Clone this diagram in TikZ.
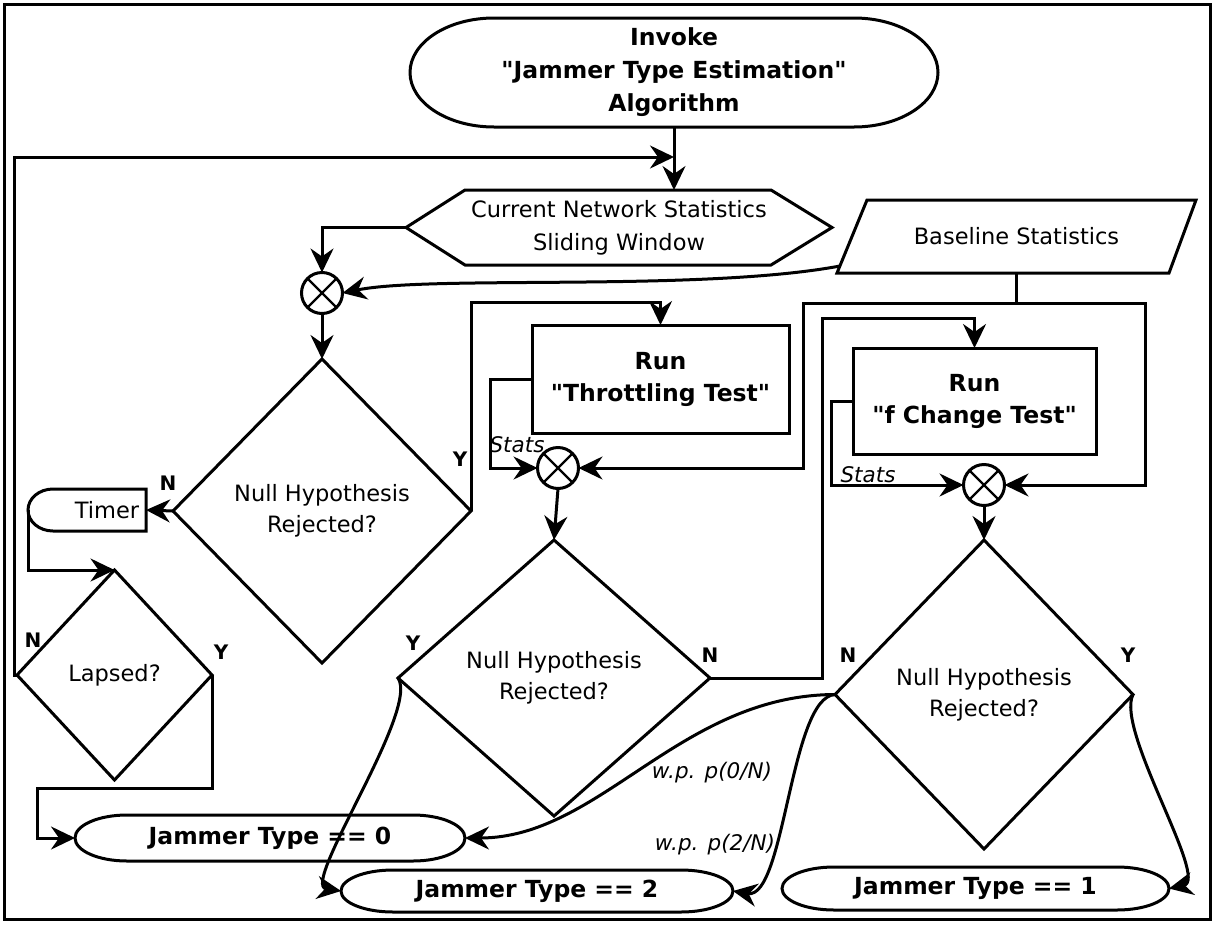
\documentclass[tikz,border=0pt]{standalone}
\usepackage{fontspec}
\setmainfont{DejaVu Sans}
\usetikzlibrary{arrows.meta,calc,shapes.geometric}
\newcommand\dq{\XeTeXglyph\XeTeXcharglyph"22\relax}
\newcommand\stadiumpath[3]{%
  \draw[ln] ([xshift=#2]#1.north west) -- ([xshift=-#2]#1.north east)
    arc[start angle=90,end angle=-90,x radius=#2,y radius=#3]
    -- ([xshift=#2]#1.south west)
    arc[start angle=270,end angle=90,x radius=#2,y radius=#3] -- cycle;}
\begin{document}
\begin{tikzpicture}[x=1pt,y=-1pt,
  ln/.style={line width=3pt},
  arr/.style={line width=3pt,-{Stealth[length=24pt,width=23pt,inset=8pt]}},
  txt/.style={font=\fontsize{22.5}{33}\selectfont,align=center,inner sep=0pt,outer sep=0pt},
  btxt/.style={font=\fontsize{23.5}{33}\selectfont\bfseries,align=center,inner sep=0pt,outer sep=0pt},
  shp/.style={inner sep=0pt,outer sep=0pt},
  dia/.style={diamond,draw,line width=3pt,inner sep=0pt,outer sep=0pt,align=center,font=\fontsize{22.5}{31}\selectfont},
  box/.style={rectangle,draw,line width=3pt,inner sep=0pt,outer sep=0pt,align=center,font=\fontsize{23.5}{32}\selectfont\bfseries},
  sum/.style={circle,draw,line width=3pt,minimum size=41pt,inner sep=0pt,outer sep=0pt,
     path picture={\draw[line width=2.4pt] (path picture bounding box.north west) -- (path picture bounding box.south east)
      (path picture bounding box.north east) -- (path picture bounding box.south west);}},
  yn/.style={font=\fontsize{20}{22}\selectfont\bfseries,inner sep=0pt},
  itl/.style={font=\fontsize{21.5}{24}\selectfont\itshape,inner sep=0pt}
]
\useasboundingbox (0,0) rectangle (1215,924);
\draw[line width=3.5pt] (4.5,4.5) rectangle (1210.5,919.5);

% nodes
\node[btxt,minimum width=528pt,minimum height=109pt] (start) at (674,72.5) {Invoke\\\dq Jammer Type Estimation\dq\\Algorithm};
\stadiumpath{start}{84pt}{54.5pt}

\node[txt,minimum width=426pt,minimum height=75pt] (hex) at (619,227.5) {Current Network Statistics\\Sliding Window};
\draw[ln] (hex.west) -- ([xshift=59pt]hex.north west) -- ([xshift=-61pt]hex.north east) -- (hex.east) -- ([xshift=-61pt]hex.south east) -- ([xshift=59pt]hex.south west) -- cycle;

\node[txt,minimum width=359pt,minimum height=73pt] (base) at (1016.5,236.5) {Baseline Statistics};
\draw[ln] ([xshift=30pt]base.north west) -- (base.north east) -- ([xshift=-27pt]base.south east) -- (base.south west) -- cycle;

\node[sum] (c1) at (322,293) {};
\node[dia,minimum width=298pt,minimum height=304pt] (d1) at (322,511) {Null Hypothesis\\Rejected?};

\node[shp,minimum width=118pt,minimum height=42pt] (timer) at (87,510) {};
\node[txt] (timertxt) at (107,510) {Timer};
\draw[ln] (timer.north east) -- ([xshift=25pt]timer.north west) arc[start angle=90,end angle=270,x radius=25pt,y radius=21pt] -- (timer.south east) -- cycle;

\node[dia,minimum width=195pt,minimum height=210pt] (lap) at (114.5,675) {Lapsed?};

\node[box,minimum width=257pt,minimum height=108pt] (thr) at (660.5,379) {Run\\\dq Throttling Test\dq};
\node[sum] (c2) at (558,468) {};
\node[dia,minimum width=312pt,minimum height=276pt] (d2) at (554,678) {Null Hypothesis\\Rejected?};

\node[box,minimum width=243pt,minimum height=106pt] (fch) at (974.5,401) {Run\\\dq f Change Test\dq};
\node[sum] (c3) at (984,485) {};
\node[dia,minimum width=298pt,minimum height=309pt] (d3) at (984,694.5) {Null Hypothesis\\Rejected?};

\node[btxt,minimum width=390pt,minimum height=46pt] (j0) at (270,838) {Jammer Type == 0};
\stadiumpath{j0}{52pt}{23pt}
\node[btxt,minimum width=392pt,minimum height=42pt] (j2) at (537,891) {Jammer Type == 2};
\stadiumpath{j2}{52pt}{21pt}
\node[btxt,minimum width=387pt,minimum height=43pt] (j1) at (975.5,888.5) {Jammer Type == 1};
\stadiumpath{j1}{52pt}{21.5pt}

% helper coordinates
\coordinate (j) at (674,157);
\coordinate (bs) at (840,266);
\coordinate (lj) at (37,788);
\coordinate (bl) at (803,303);
\coordinate (br) at (1145,303);
\coordinate (nr) at (822,678);

% connectors
\draw[arr] (start.south) -- (start.south |- hex.north);
\draw[arr] (lap.west) -- (14,675) |- (j);
\draw[arr] (hex.west) -| (c1.north);
\draw[arr] (bs) .. controls (700,292) and (430,275) .. (c1.east);
\draw[arr] (c1.south) -- (d1.north);
\draw[arr] (d1.west) -- (timer.east);
\draw[arr] (timer.west) |- (lap.north);
\draw[arr] (lap.east) |- (lj) |- (j0.west);
\draw[arr] (d1.east) |- ([yshift=23pt]thr.north) -- (thr.north);
\draw[arr] (thr.west) -- ++(-42,0) |- (c2.west);
\draw[arr] (base.south) |- (bl) |- (c2.east);
\draw[arr] (base.south) |- (br) |- (c3.east);
\draw[arr] (c2.south) -- (d2.north);
\draw[arr] (d2.east) -- (nr) |- ([yshift=30pt]fch.north) -- (fch.north);
\draw[arr] (fch.west) -- ++(-22,0) |- (c3.west);
\draw[arr] (c3.south) -- (d3.north);
\draw[arr] (d2.west) .. controls (420,710) and (300,885) .. (j2.west);
\draw[arr] (d3.west) .. controls (680,695) and (600,838) .. (j0.east);
\draw[arr] (d3.west) .. controls (790,697) and (785,900) .. (j2.east);
\draw[arr] (d3.east) .. controls (1115,730) and (1210,880) .. (j1.east);

% labels
\node[yn] (n1) at (168,483) {N};
\node[yn] (y1) at (460,459) {Y};
\node[yn] (n2) at (33,640) {N};
\node[yn] (y2) at (221,652) {Y};
\node[yn] (y3) at (413,643) {Y};
\node[yn] (n3) at (710,655) {N};
\node[yn] (n4) at (848,655) {N};
\node[yn] (y4) at (1128,655) {Y};
\node[itl] (s1) at (517,445) {Stats};
\node[itl] (s2) at (868,475) {Stats};
\node[itl] (p0) at (712,773) {w.p. p(0/N)};
\node[itl] (p2) at (715,845) {w.p. p(2/N)};
\end{tikzpicture}
\end{document}
